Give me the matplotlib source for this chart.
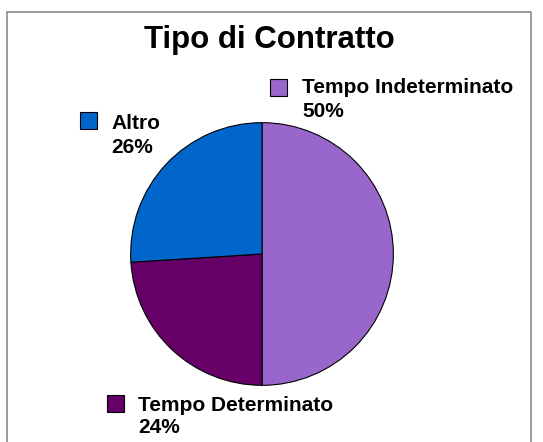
import matplotlib.pyplot as plt
from matplotlib.patches import Rectangle

plt.rcParams['font.family'] = ['Liberation Sans', 'DejaVu Sans']

categorie = ['Tempo Indeterminato', 'Tempo Determinato', 'Altro']
valori = [50, 24, 26]
colori = ['#9966CC', '#660066', '#0066CC']

W, H = 543, 442
fig = plt.figure(figsize=(W / 100, H / 100), dpi=100)

# frame around the chart area (pixels from top-left)
fig.patches.append(Rectangle((6.5 / W, -0.01), (531 - 6.5) / W, (H - 11.5) / H + 0.01,
                             transform=fig.transFigure, fill=False,
                             edgecolor='#8c8c8c', lw=1.2))

cx, cy, r = 262, 254, 132
ax = fig.add_axes([(cx - r) / W, (H - cy - r) / H, 2 * r / W, 2 * r / H])
ax.pie(valori, colors=colori, startangle=90, counterclock=False,
       wedgeprops=dict(edgecolor='black', linewidth=0.8))
ax.set_xlim(-1.005, 1.005)
ax.set_ylim(-1.005, 1.005)

fig.text(269.5 / W, 1 - 48 / H, 'Tipo di Contratto', ha='center', va='baseline',
         fontsize=22.5, fontweight='bold')

totale = sum(valori)
# label positions in pixels: square x, square top, text x, baseline 1, baseline 2
posizioni = [(270, 79, 302, 93, 117), (107, 395, 138, 411, 433), (80, 112, 111, 129, 153)]
for nome, v, col, (sx, sy, tx, b1, b2) in zip(categorie, valori, colori, posizioni):
    fig.patches.append(Rectangle((sx / W, 1 - (sy + 17) / H), 17 / W, 17 / H,
                                 transform=fig.transFigure, facecolor=col,
                                 edgecolor='black', lw=0.8))
    fig.text(tx / W, 1 - b1 / H, nome, ha='left', va='baseline',
             fontsize=15, fontweight='bold')
    fig.text(tx / W, 1 - b2 / H, f'{round(v / totale * 100)}%',
             ha='left', va='baseline', fontsize=15, fontweight='bold')

fig.savefig('out.png', dpi=100)
